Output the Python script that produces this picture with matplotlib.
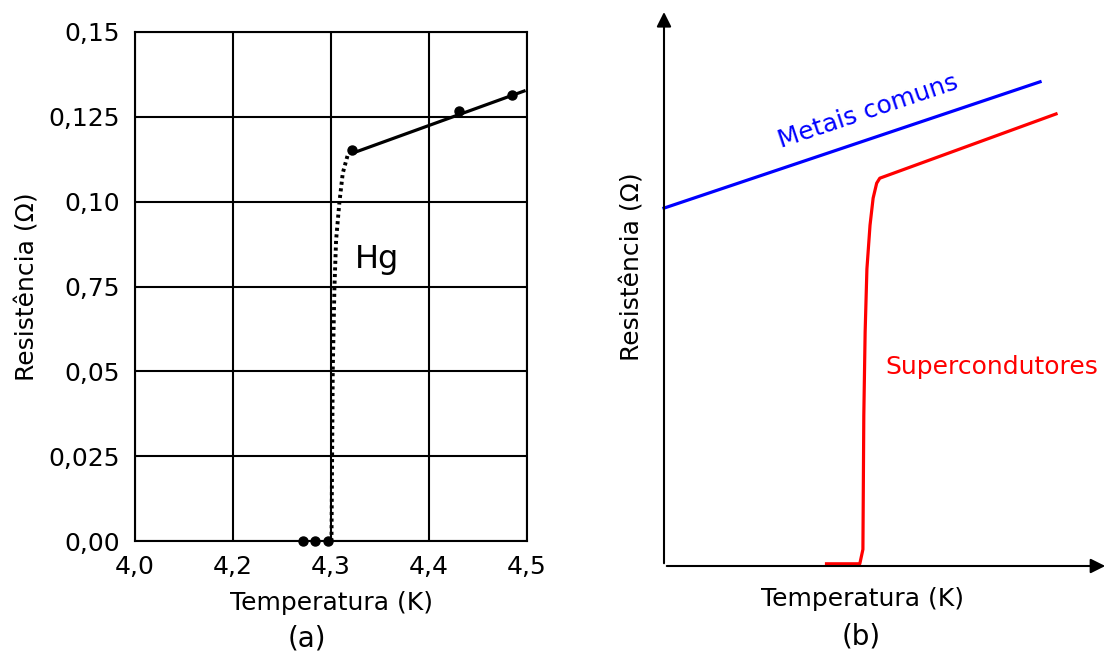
import numpy as np
import matplotlib.pyplot as plt

# (a) Hg measurements
t_ticks = [4.0, 4.2, 4.3, 4.4, 4.5]
t_labels = ["4,0", "4,2", "4,3", "4,4", "4,5"]
r_ticks = [0.0, 0.025, 0.05, 0.075, 0.10, 0.125, 0.15]
r_labels = ["0,00", "0,025", "0,05", "0,75", "0,10", "0,125", "0,15"]

hg_t = [4.271, 4.284, 4.297, 4.321, 4.431, 4.485]
hg_r = [0.0, 0.0, 0.0, 0.1152, 0.1267, 0.1314]

low_t = [4.271, 4.300]
low_r = [0.0, 0.0]
fit_t = [4.322, 4.497]
fit_r = [0.1143, 0.1326]
drop_t = [4.3000, 4.3005, 4.3018, 4.3035, 4.3052, 4.3085, 4.3120, 4.3170, 4.3214]
drop_r = [0.0, 0.0, 0.0504, 0.0747, 0.0887, 0.0996, 0.1084, 0.1137, 0.1146]

# (b) sketch, arbitrary units
metal_x = [0.0, 8.47]
metal_y = [6.46, 8.74]
sc_x = [3.66, 4.41, 4.48, 4.50, 4.53, 4.57, 4.64, 4.71, 4.79, 4.86, 8.83]
sc_y = [0.04, 0.04, 0.30, 2.71, 4.22, 5.36, 6.15, 6.64, 6.91, 7.00, 8.16]

fs = 18

fig = plt.figure(figsize=(11.08, 6.55), dpi=100)

# left panel
ax = fig.add_axes([135/1108, 1 - 541/655, 392/1108, 509/655])
idx = np.arange(len(t_ticks))
ax.set_xscale('function', functions=(lambda v: np.interp(v, t_ticks, idx),
                                     lambda v: np.interp(v, idx, t_ticks)))
ax.set_xlim(4.0, 4.5)
ax.set_ylim(0, 0.15)
ax.set_xticks(t_ticks)
ax.set_xticklabels(t_labels)
ax.set_yticks(r_ticks)
ax.set_yticklabels(r_labels)
ax.tick_params(axis='y', length=0, labelsize=fs, pad=11)
ax.tick_params(axis='x', length=0, labelsize=fs, pad=10)
ax.grid(True, color='black', lw=1.5)
for s in ax.spines.values():
    s.set_linewidth(1.5)

ax.plot(low_t, low_r, color='black', lw=2)
ax.plot(drop_t, drop_r, color='black', lw=2.8, ls=(0, (0.8, 0.9)))
ax.plot(fit_t, fit_r, color='black', lw=2.3)
ax.plot(hg_t, hg_r, 'o', color='black', ms=6.5, clip_on=False)
ax.text(4.3245, 0.0805, "Hg", fontsize=23)

ax.set_xlabel("Temperatura (K)", fontsize=fs, labelpad=9)
ax.set_ylabel("Resistência (Ω)", fontsize=fs, labelpad=6)

# right panel
bx = fig.add_axes([664/1108, 1 - 566/655, 444/1108, 554/655])
bx.set_xlim(0, 10)
bx.set_ylim(0, 10)
bx.axis('off')
bx.annotate('', xy=(0, 10.05), xytext=(0, 0),
            arrowprops=dict(arrowstyle='-|>', color='black', lw=1.5, mutation_scale=22),
            annotation_clip=False)
bx.annotate('', xy=(10, 0), xytext=(0, 0),
            arrowprops=dict(arrowstyle='-|>', color='black', lw=1.5, mutation_scale=22),
            annotation_clip=False)
bx.plot(metal_x, metal_y, color='#0000ff', lw=2.3, clip_on=False)
bx.plot(sc_x, sc_y, color='#ff0000', lw=2.3, clip_on=False)
bx.text(4.6, 8.2, "Metais comuns", color='#0000ff', fontsize=fs,
        rotation=18.5, ha='center', va='center', rotation_mode='anchor')
bx.text(4.98, 3.6, "Supercondutores", color='#ff0000', fontsize=fs,
        ha='left', va='center')
bx.text(4.46, -0.6, "Temperatura (K)", fontsize=fs, ha='center', va='center')
bx.text(-0.72, 5.4, "Resistência (Ω)", fontsize=fs, ha='center', va='center',
        rotation=90)

fig.text(307/1108, 1 - 638/655, "(a)", fontsize=20, ha='center', va='center')
fig.text(861/1108, 1 - 637/655, "(b)", fontsize=20, ha='center', va='center')

fig.savefig("out.png", dpi=100)
